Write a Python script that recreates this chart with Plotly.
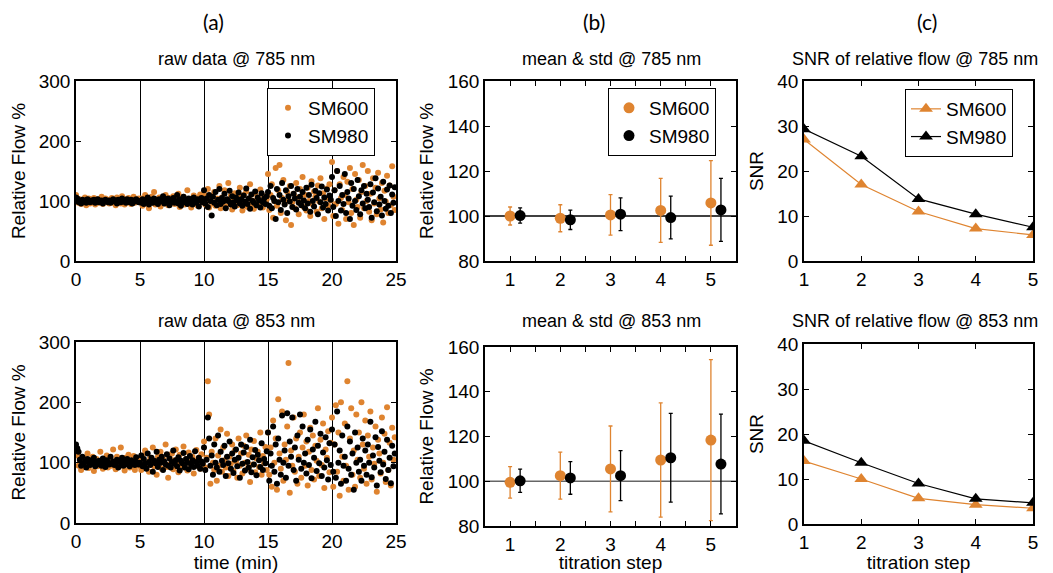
import numpy as np
import plotly.graph_objects as go

# ---------------- data ----------------
T_END = 25.0  # minutes

raw785_sm600 = [
    110, 104, 97, 103, 95, 101, 99, 106, 93, 100, 104, 96, 102, 98, 105, 94, 100, 103, 97, 101, 107, 95, 99, 104, 98, 102, 96, 100, 105, 97, 101, 93, 106, 99, 102, 96, 108, 100, 94, 103, 98, 105, 101, 95, 100, 107, 97, 102, 99, 104,
    99, 104, 92, 101, 110, 96, 103, 88, 100, 107, 97, 115, 94, 102, 99, 106, 91, 101, 104, 96, 110, 98, 93, 105, 100, 97, 108, 95, 102, 99, 112, 90, 104, 98, 107, 94, 101, 118, 96, 103, 89, 100, 109, 97, 105, 92, 102, 111, 98, 104,
    112, 94, 103, 120, 89, 100, 108, 96, 115, 92, 104, 99, 125, 88, 106, 97, 118, 91, 102, 130, 95, 109, 86, 100, 113, 98, 93, 107, 122, 101, 84, 110, 97, 116, 90, 104, 128, 95, 101, 87, 112, 99, 106, 93, 119, 100, 89, 108, 96, 103,
    145, 85, 110, 128, 72, 100, 155, 92, 118, 160, 80, 105, 135, 95, 68, 115, 102, 125, 60, 98, 112, 88, 130, 106, 78, 120, 97, 140, 90, 110, 84, 122, 100, 75, 133, 94, 116, 107, 82, 126, 99, 138, 88, 113, 70, 104, 121, 92, 128, 101,
    165, 75, 118, 95, 150, 62, 128, 105, 85, 140, 110, 70, 132, 98, 155, 80, 120, 60, 145, 102, 90, 135, 72, 115, 160, 88, 125, 100, 150, 82, 112, 68, 138, 96, 122, 78, 147, 104, 86, 130, 64, 117, 99, 142, 80, 126, 93, 158, 107, 85,
]
raw785_sm980 = [
    106, 104, 98, 100, 96, 102, 99, 101, 97, 103, 100, 98, 101, 99, 102, 97, 100, 103, 98, 100, 101, 96, 99, 102, 100, 98, 101, 97, 100, 103, 99, 101, 96, 102, 100, 98, 104, 99, 101, 97, 103, 100, 98, 102, 96, 101, 99, 103, 100, 98,
    100, 97, 103, 95, 101, 99, 106, 94, 100, 102, 97, 104, 98, 101, 95, 103, 99, 100, 108, 96, 102, 98, 104, 93, 101, 99, 105, 97, 100, 110, 96, 103, 92, 101, 107, 98, 100, 95, 104, 99, 102, 94, 106, 100, 97, 103, 91, 101, 105, 98,
    118, 96, 104, 90, 110, 100, 76, 107, 97, 115, 93, 102, 120, 95, 105, 99, 112, 88, 103, 100, 117, 94, 108, 98, 91, 106, 101, 114, 96, 103, 92, 109, 99, 121, 95, 104, 87, 111, 100, 97, 116, 93, 106, 101, 89, 113, 98, 104, 95, 108,
    115, 92, 125, 88, 105, 100, 70, 120, 98, 110, 85, 130, 102, 94, 118, 80, 108, 99, 125, 90, 112, 104, 86, 120, 97, 107, 93, 115, 101, 88, 122, 96, 110, 82, 127, 100, 91, 117, 105, 78, 113, 98, 124, 89, 106, 95, 119, 84, 109, 102,
    140, 90, 118, 75, 150, 100, 125, 84, 110, 95, 145, 80, 115, 104, 70, 130, 92, 120, 100, 85, 135, 108, 78, 118, 96, 125, 88, 112, 102, 90, 128, 72, 114, 98, 138, 83, 121, 94, 107, 76, 132, 100, 87, 119, 92, 126, 80, 111, 97, 123,
]
raw853_sm600 = [
    118, 112, 95, 104, 88, 101, 108, 93, 99, 115, 91, 103, 97, 110, 86, 100, 106, 94, 102, 118, 96, 90, 105, 99, 112, 92, 101, 107, 95, 122, 98, 89, 110, 100, 94, 125, 97, 104, 87, 108, 99, 113, 92, 102, 96, 111, 88, 105, 100, 95,
    104, 88, 112, 96, 120, 92, 101, 85, 108, 99, 125, 94, 103, 80, 110, 97, 118, 90, 106, 100, 130, 93, 75, 109, 98, 115, 89, 104, 122, 96, 84, 113, 100, 92, 127, 97, 106, 87, 117, 101, 94, 110, 82, 103, 121, 95, 108, 90, 114, 99,
    135, 92, 108, 235, 180, 65, 118, 100, 88, 140, 70, 112, 95, 155, 85, 125, 104, 92, 148, 78, 110, 98, 130, 86, 120, 102, 75, 140, 95, 115, 82, 128, 100, 145, 90, 113, 68, 122, 97, 136, 84, 107, 118, 93, 150, 80, 111, 99, 126, 88,
    150, 80, 125, 60, 170, 100, 140, 55, 205, 115, 90, 185, 70, 130, 105, 160, 265, 50, 120, 95, 175, 85, 140, 65, 110, 150, 75, 125, 180, 95, 135, 62, 118, 158, 88, 145, 72, 128, 103, 190, 78, 138, 96, 165, 58, 122, 108, 152, 84, 133,
    175, 60, 130, 195, 85, 150, 45, 200, 110, 70, 165, 95, 235, 55, 140, 190, 80, 120, 60, 180, 105, 150, 75, 200, 130, 90, 170, 65, 145, 110, 185, 72, 125, 98, 160, 52, 138, 115, 82, 175, 100, 148, 68, 192, 88, 133, 62, 158, 105, 142,
]
raw853_sm980 = [
    130, 124, 118, 105, 95, 110, 98, 102, 92, 106, 100, 96, 104, 99, 108, 94, 101, 97, 103, 100, 95, 107, 99, 93, 104, 101, 97, 110, 98, 102, 96, 100, 105, 92, 103, 99, 108, 95, 101, 97, 106, 100, 94, 104, 98, 102, 96, 109, 100, 97,
    100, 112, 94, 106, 98, 90, 115, 101, 96, 108, 85, 103, 99, 118, 93, 105, 100, 110, 88, 102, 97, 114, 95, 107, 92, 101, 120, 98, 104, 94, 109, 87, 103, 99, 116, 92, 106, 100, 89, 111, 97, 104, 93, 119, 101, 95, 108, 90, 102, 98,
    125, 88, 105, 175, 140, 95, 112, 80, 130, 100, 92, 145, 85, 118, 103, 96, 128, 78, 110, 99, 135, 90, 115, 83, 105, 122, 94, 108, 75, 130, 98, 117, 87, 126, 101, 92, 138, 84, 109, 97, 121, 79, 113, 104, 93, 132, 88, 106, 99, 119,
    150, 70, 115, 95, 160, 85, 130, 65, 140, 105, 80, 178, 100, 120, 75, 182, 95, 135, 110, 175, 88, 125, 70, 145, 105, 180, 90, 160, 100, 115, 82, 138, 96, 155, 74, 122, 108, 168, 86, 128, 99, 148, 78, 117, 92, 142, 104, 72, 132, 96,
    155, 85, 130, 75, 185, 100, 120, 65, 145, 95, 110, 70, 160, 90, 135, 80, 115, 55, 150, 100, 125, 85, 105, 70, 140, 95, 120, 80, 130, 100, 168, 76, 112, 92, 142, 62, 126, 103, 84, 152, 97, 118, 73, 138, 88, 108, 66, 128, 94, 115,
]

steps = [1, 2, 3, 4, 5]
step_offset_sm980 = 0.2

mean785_sm600 = [100.0, 99.0, 100.5, 102.5, 105.8]
std785_sm600 = [4.0, 6.0, 9.0, 14.2, 18.8]
mean785_sm980 = [100.2, 98.3, 100.8, 99.3, 102.7]
std785_sm980 = [3.4, 4.3, 7.3, 9.5, 14.0]

mean853_sm600 = [99.5, 102.5, 105.5, 109.5, 118.4]
std853_sm600 = [7.0, 10.5, 19.2, 25.5, 36.0]
mean853_sm980 = [100.2, 101.5, 102.5, 110.5, 107.7]
std853_sm980 = [5.2, 7.3, 11.2, 19.8, 22.3]

snr785_sm600 = [27.0, 17.0, 11.0, 7.2, 5.8]
snr785_sm980 = [29.3, 23.3, 13.8, 10.4, 7.5]
snr853_sm600 = [14.0, 10.0, 5.7, 4.3, 3.5]
snr853_sm980 = [18.5, 13.6, 9.0, 5.6, 4.7]

REF_LEVEL = 100

ORANGE = "#DF8430"
BLACK = "#000000"
FONT = "Liberation Sans, Arial, sans-serif"

# page body has an 8px default margin: the figure is shrunk and all
# layout positions (given in window pixels) are shifted by it
PAGE_OFF = 8
W, H = 1053 - PAGE_OFF, 573 - PAGE_OFF

def px(x):
    return (x - PAGE_OFF) / W

def py(y):
    return 1 - (y - PAGE_OFF) / H

def times(values):
    return np.linspace(0, T_END, len(values), endpoint=False)

steps_b = [s + step_offset_sm980 for s in steps]

fig = go.Figure()

# ---- (a) raw data ----
for (ax, data600, data980, leg) in [("", raw785_sm600, raw785_sm980, True),
                                    ("4", raw853_sm600, raw853_sm980, False)]:
    xa = "x" + ax
    ya = "y" + ax
    fig.add_trace(go.Scatter(x=times(data600), y=data600, mode="markers", name="SM600",
                             marker=dict(color=ORANGE, size=6),
                             xaxis=xa, yaxis=ya, showlegend=leg, legend="legend"))
    fig.add_trace(go.Scatter(x=times(data980), y=data980, mode="markers", name="SM980",
                             marker=dict(color=BLACK, size=6),
                             xaxis=xa, yaxis=ya, showlegend=leg, legend="legend"))

# ---- (b) mean & std ----
for (ax, m6, s6, m9, s9, leg, refcol) in [("2", mean785_sm600, std785_sm600, mean785_sm980, std785_sm980, True, "#000000"),
                                          ("5", mean853_sm600, std853_sm600, mean853_sm980, std853_sm980, False, "#666666")]:
    xa = "x" + ax
    ya = "y" + ax
    fig.add_shape(type="line", xref=xa + " domain", yref=ya, x0=0, x1=1,
                  y0=REF_LEVEL, y1=REF_LEVEL, line=dict(color=refcol, width=1.5), layer="below")
    fig.add_trace(go.Scatter(x=steps, y=m6, mode="markers", name="SM600",
                             marker=dict(color=ORANGE, size=11),
                             error_y=dict(type="data", array=s6, color=ORANGE, thickness=1.3, width=2),
                             xaxis=xa, yaxis=ya, showlegend=leg, legend="legend2"))
    fig.add_trace(go.Scatter(x=steps_b, y=m9, mode="markers", name="SM980",
                             marker=dict(color=BLACK, size=11),
                             error_y=dict(type="data", array=s9, color=BLACK, thickness=1.3, width=2),
                             xaxis=xa, yaxis=ya, showlegend=leg, legend="legend2"))

# ---- (c) SNR ----
for (ax, a6, a9, leg) in [("3", snr785_sm600, snr785_sm980, True),
                          ("6", snr853_sm600, snr853_sm980, False)]:
    xa = "x" + ax
    ya = "y" + ax
    fig.add_trace(go.Scatter(x=steps, y=a6, mode="lines+markers", name="SM600",
                             line=dict(color=ORANGE, width=1.2),
                             marker=dict(color=ORANGE, size=12, symbol="triangle-up"),
                             xaxis=xa, yaxis=ya, showlegend=leg, legend="legend3"))
    fig.add_trace(go.Scatter(x=steps, y=a9, mode="lines+markers", name="SM980",
                             line=dict(color=BLACK, width=1.2),
                             marker=dict(color=BLACK, size=12, symbol="triangle-up"),
                             xaxis=xa, yaxis=ya, showlegend=leg, legend="legend3"))

# ---------------- axes ----------------
tickfont = dict(family=FONT, size=19, color="black")
titlefont = dict(family=FONT, size=19, color="black")

def base_axis(**kw):
    d = dict(showline=True, linecolor="black", linewidth=1.5, mirror="allticks",
             ticks="inside", ticklen=5, tickwidth=1, tickcolor="black", automargin=False,
             showgrid=False, zeroline=False, tickfont=tickfont, fixedrange=True)
    d.update(kw)
    return d

xa_dom = [px(76), px(396)]
xb_dom = [px(485), px(736)]
xc_dom = [px(804), px(1033)]
row1 = [py(261), py(81)]
row2a = [py(523), py(342)]
row2b = [py(526), py(347)]
row2c = [py(524), py(344)]

half_vals = [0.5 + 0.5 * i for i in range(11)]
half_text = [("%d" % v) if float(v).is_integer() else "" for v in half_vals]

def xa_axis(anchor, dom, title=None):
    return base_axis(domain=dom, anchor=anchor, range=[0, 25], tickvals=[0, 5, 10, 15, 20, 25],
                     showgrid=True, gridcolor="black", gridwidth=1,
                     title=dict(text=title, font=titlefont, standoff=3) if title else None)

def ya_axis(anchor, dom):
    return base_axis(domain=dom, anchor=anchor, range=[0, 300], tickvals=[0, 100, 200, 300],
                     title=dict(text="Relative Flow %", font=titlefont, standoff=9))

def xb_axis(anchor, dom, title=None):
    return base_axis(domain=dom, anchor=anchor, range=[0.5, 5.5], tickvals=half_vals, ticktext=half_text,
                     title=dict(text=title, font=titlefont, standoff=3) if title else None)

def yb_axis(anchor, dom):
    return base_axis(domain=dom, anchor=anchor, range=[80, 160], tickvals=[80, 100, 120, 140, 160],
                     title=dict(text="Relative Flow %", font=titlefont, standoff=9))

def xc_axis(anchor, dom, title=None):
    return base_axis(domain=dom, anchor=anchor, range=[1, 5], tickvals=[1, 2, 3, 4, 5],
                     title=dict(text=title, font=titlefont, standoff=3) if title else None)

def yc_axis(anchor, dom):
    return base_axis(domain=dom, anchor=anchor, range=[0, 40], tickvals=[0, 10, 20, 30, 40],
                     title=dict(text="SNR", font=titlefont, standoff=9))

legend_common = dict(bgcolor="white", bordercolor="black", borderwidth=1,
                     font=dict(family=FONT, size=19, color="black"),
                     xanchor="left", yanchor="top", tracegroupgap=0, itemsizing="trace")

fig.update_layout(
    width=W, height=H,
    margin=dict(l=0, r=0, t=0, b=0, autoexpand=False),
    paper_bgcolor="white", plot_bgcolor="white",
    font=dict(family=FONT, size=16, color="black"),
    xaxis=xa_axis("y", xa_dom),
    yaxis=ya_axis("x", row1),
    xaxis2=xb_axis("y2", xb_dom),
    yaxis2=yb_axis("x2", row1),
    xaxis3=xc_axis("y3", xc_dom),
    yaxis3=yc_axis("x3", row1),
    xaxis4=xa_axis("y4", xa_dom, "time (min)"),
    yaxis4=ya_axis("x4", row2a),
    xaxis5=xb_axis("y5", xb_dom, "titration step"),
    yaxis5=yb_axis("x5", row2b),
    xaxis6=xc_axis("y6", xc_dom, "titration step"),
    yaxis6=yc_axis("x6", row2c),
    legend=dict(x=px(267), y=py(88), **legend_common),
    legend2=dict(x=px(608), y=py(88), **legend_common),
    legend3=dict(x=px(905), y=py(89), **legend_common),
    showlegend=True,
)

# panel labels and titles
panel_labels = ["(a)", "(b)", "(c)"]
panel_label_x = [213, 594, 927]
for lab, xx in zip(panel_labels, panel_label_x):
    fig.add_annotation(text=lab, x=px(xx), y=py(22), xref="paper", yref="paper",
                       xanchor="center", yanchor="middle",
                       showarrow=False, font=dict(family="Lato, Open Sans, sans-serif", size=21, color="black"))

titles_top = ["raw data @ 785 nm", "mean & std @ 785 nm", "SNR of relative flow @ 785 nm"]
titles_bot = ["raw data @ 853 nm", "mean & std @ 853 nm", "SNR of relative flow @ 853 nm"]
title_x = [236, 611, 915]
for tt, xx in zip(titles_top, title_x):
    fig.add_annotation(text=tt, x=px(xx), y=py(59), xref="paper", yref="paper",
                       xanchor="center", yanchor="middle",
                       showarrow=False, font=dict(family=FONT, size=18, color="black"))
for tt, xx in zip(titles_bot, title_x):
    fig.add_annotation(text=tt, x=px(xx), y=py(321), xref="paper", yref="paper",
                       xanchor="center", yanchor="middle",
                       showarrow=False, font=dict(family=FONT, size=18, color="black"))

fig.write_html("out.html", config=dict(displayModeBar=False))
